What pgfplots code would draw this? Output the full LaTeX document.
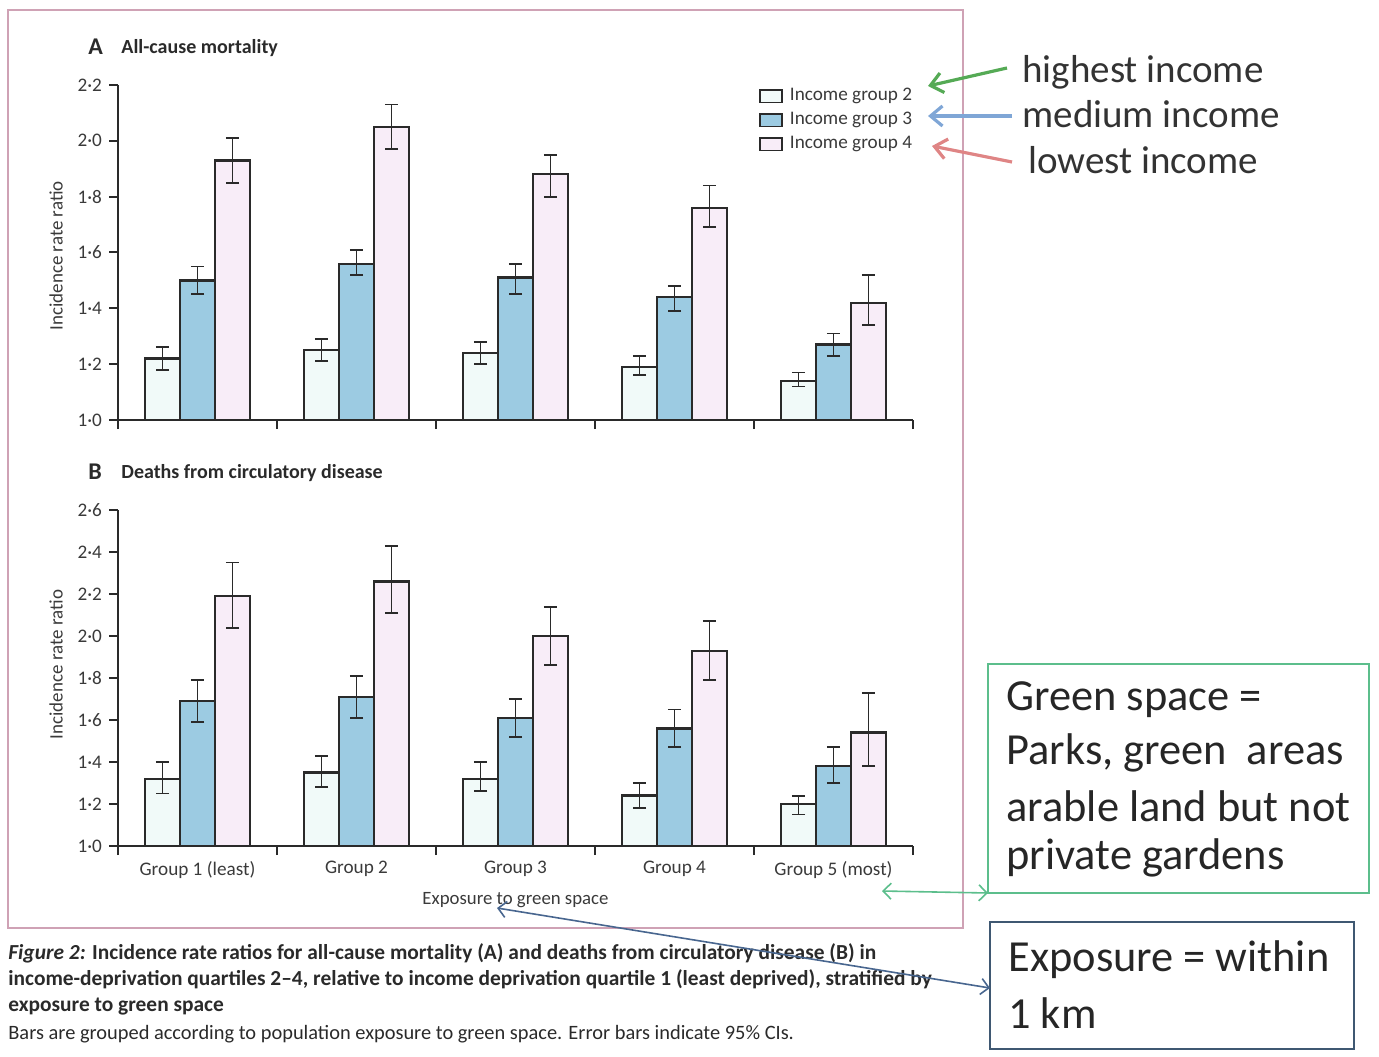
\documentclass[border=0pt]{standalone}
\usepackage{fontspec}
\setmainfont{Carlito}
\usepackage{pgfplots}
\pgfplotsset{compat=1.18}
\usepackage{pgfplotstable}
\usetikzlibrary{arrows.meta}

\definecolor{barwhite}{HTML}{F1FAF9}
\definecolor{barblue}{HTML}{9CCBE2}
\definecolor{barpink}{HTML}{F8EDF8}
\definecolor{edge}{HTML}{2A2A2A}
\definecolor{txt}{HTML}{3A3A3A}
\definecolor{framepink}{HTML}{CFA2B5}
\definecolor{arrgreen}{HTML}{55AA55}
\definecolor{arrblue}{HTML}{7FA6D6}
\definecolor{arrred}{HTML}{DF8585}
\definecolor{boxgreen}{HTML}{5CBE8C}
\definecolor{boxblue}{HTML}{3F5872}
\definecolor{linkblue}{HTML}{48668F}

% Incidence rate ratios with 95% CI (upper and lower distances)
% w = income group 2, b = income group 3, p = income group 4
\pgfplotstableread{
x w    wp   wm   b    bp   bm   p    pp   pm
1 1.22 0.04 0.04 1.50 0.05 0.05 1.93 0.08 0.08
2 1.25 0.04 0.04 1.56 0.05 0.04 2.05 0.08 0.08
3 1.24 0.04 0.04 1.51 0.05 0.06 1.88 0.07 0.08
4 1.19 0.04 0.03 1.44 0.04 0.05 1.76 0.08 0.07
5 1.14 0.03 0.02 1.27 0.04 0.04 1.42 0.10 0.08
}\allcause

\pgfplotstableread{
x w    wp   wm   b    bp   bm   p    pp   pm
1 1.32 0.08 0.07 1.69 0.10 0.10 2.19 0.16 0.15
2 1.35 0.08 0.07 1.71 0.10 0.10 2.26 0.17 0.15
3 1.32 0.08 0.06 1.61 0.09 0.09 2.00 0.14 0.14
4 1.24 0.06 0.06 1.56 0.09 0.09 1.93 0.14 0.14
5 1.20 0.04 0.05 1.38 0.09 0.08 1.54 0.19 0.16
}\circulatory

\pgfplotsset{
  panel/.style={
    scale only axis, width=397.5pt,
    xmin=0.5, xmax=5.5, ymin=1,
    axis x line*=bottom, axis y line*=left,
    axis line style={edge, line width=1pt},
    tick style={edge, line width=1pt},
    tick align=outside, major tick length=4.5pt,
    xtick={0.5,1.5,...,5.5}, xticklabels={},
    ybar, bar width=17.5pt,
    tick label style={font=\fontsize{9.6}{11}\selectfont, text=txt},
    every axis y label/.style={at={(axis description cs:-0.078,0.49)},
      rotate=90, anchor=center, font=\fontsize{9.5}{11}\selectfont, text=txt},
    clip=false,
  },
  gbar/.style={draw=edge, line width=1.15pt, fill=#1,
    /pgfplots/error bars/y dir=both,
    /pgfplots/error bars/y explicit,
    /pgfplots/error bars/error bar style={edge, line width=0.95pt},
    /pgfplots/error bars/error mark options={rotate=90, edge, line width=0.95pt, mark size=3.3pt}},
}

\begin{document}
\begin{tikzpicture}
\path[use as bounding box] (0,0) rectangle (689.5pt,528pt);

% Panel A: all-cause mortality
\begin{axis}[panel, at={(59pt,318pt)}, anchor=south west,
  height=167.5pt, ymax=2.2,
  ytick={1,1.2,1.4,1.6,1.8,2.0,2.2},
  yticklabels={1·0,1·2,1·4,1·6,1·8,2·0,2·2},
  ylabel={Incidence rate ratio},
  legend style={at={(axis description cs:0.806,1.003)}, anchor=north west,
    draw=none, fill=none, font=\fontsize{9.6}{11}\selectfont, text=txt,
    row sep=0.3pt, inner sep=0pt, cells={anchor=west},
    /tikz/every odd column/.append style={column sep=1.5pt}},
  legend image code/.code={\draw[#1,/tikz/line width=0.9pt] (0pt,-3.2pt) rectangle (11pt,3.2pt);},
]
\addplot[gbar=barwhite, bar shift=-17.5pt] table[x=x, y=w, y error plus=wp, y error minus=wm]{\allcause};
\addplot[gbar=barblue, bar shift=0pt] table[x=x, y=b, y error plus=bp, y error minus=bm]{\allcause};
\addplot[gbar=barpink, bar shift=17.5pt] table[x=x, y=p, y error plus=pp, y error minus=pm]{\allcause};
\legend{Income group 2, Income group 3, Income group 4}
\end{axis}

% Panel B: deaths from circulatory disease
\begin{axis}[panel, at={(59pt,105pt)}, anchor=south west,
  height=168pt, ymax=2.6,
  ytick={1,1.2,1.4,1.6,1.8,2.0,2.2,2.4,2.6},
  yticklabels={1·0,1·2,1·4,1·6,1·8,2·0,2·2,2·4,2·6},
  ylabel={Incidence rate ratio},
  every axis y label/.append style={at={(axis description cs:-0.078,0.54)}},
  extra x ticks={1,2,3,4,5},
  extra x tick labels={Group 1 (least), Group 2, Group 3, Group 4, Group 5 (most)},
  extra x tick style={major tick length=0pt, tick label style={yshift=-4pt}},
  xlabel={Exposure to green space},
  every axis x label/.style={at={(axis description cs:0.5,0)}, anchor=center,
    yshift=-27pt, font=\fontsize{9.4}{11}\selectfont, text=txt},
]
\addplot[gbar=barwhite, bar shift=-17.5pt] table[x=x, y=w, y error plus=wp, y error minus=wm]{\circulatory};
\addplot[gbar=barblue, bar shift=0pt] table[x=x, y=b, y error plus=bp, y error minus=bm]{\circulatory};
\addplot[gbar=barpink, bar shift=17.5pt] table[x=x, y=p, y error plus=pp, y error minus=pm]{\circulatory};
\end{axis}

\begin{scope}[x=0.5pt, y=-0.5pt, shift={(0pt,528pt)}]
  % figure frame
  \draw[framepink, line width=1pt] (8,10) rectangle (963,928);

  % panel titles
  \node[anchor=base west, inner sep=0, text=edge, font=\bfseries\fontsize{12}{14}\selectfont] at (88,55) {A};
  \node[anchor=base west, inner sep=0, text=edge, font=\bfseries\fontsize{10}{12}\selectfont] at (121,54) {All-cause mortality};
  \node[anchor=base west, inner sep=0, text=edge, font=\bfseries\fontsize{12}{14}\selectfont] at (88,479) {B};
  \node[anchor=base west, inner sep=0, text=edge, font=\bfseries\fontsize{10}{12}\selectfont] at (121,478) {Deaths from circulatory disease};

  % caption
  \begin{scope}[every node/.style={anchor=base west, inner sep=0, text=edge}]
    \node[font=\bfseries\fontsize{10.7}{12}\selectfont] at (8,959) {\textit{Figure 2:} Incidence rate ratios for all-cause mortality (A) and deaths from circulatory disease (B) in};
    \node[font=\bfseries\fontsize{10.7}{12}\selectfont] at (8,985) {income-deprivation quartiles 2–4, relative to income deprivation quartile 1 (least deprived), stratified by};
    \node[font=\bfseries\fontsize{10.7}{12}\selectfont] at (8,1011) {exposure to green space};
    \node[font=\fontsize{10.2}{12}\selectfont] at (8,1039) {Bars are grouped according to population exposure to green space. Error bars indicate 95\% CIs.};
  \end{scope}

  % income annotations
  \begin{scope}[every node/.style={anchor=west, inner sep=0, text=black!80, font=\fontsize{19.5}{22}\selectfont}]
    \node at (1022,72) {highest income};
    \node at (1022,114) {medium income};
    \node at (1028,160) {lowest income};
  \end{scope}
  \draw[arrgreen, line width=1.6pt, -{Straight Barb[length=6pt,width=10pt]}] (1007,68) -- (928,86);
  \draw[arrblue, line width=1.6pt, -{Straight Barb[length=6pt,width=10pt]}] (1012,116) -- (928,116);
  \draw[arrred, line width=1.6pt, -{Straight Barb[length=6pt,width=10pt]}] (1012,162) -- (932,146);

  % definition boxes
  \draw[boxgreen, line width=0.8pt] (988,664) rectangle (1369,893);
  \begin{scope}[every node/.style={anchor=west, inner sep=0, text=black!85, font=\fontsize{22.2}{25}\selectfont}]
    \node at (1006,700) {Green space =};
    \node at (1006,753) {Parks, green\ \ areas};
    \node at (1006,806) {arable land but not};
    \node at (1006,858) {private gardens};
    \node at (1008,960) {Exposure = within};
    \node at (1008,1013) {1 km};
  \end{scope}
  \draw[boxblue, line width=0.8pt] (990,922) rectangle (1354,1049);
  \draw[boxgreen, line width=0.8pt, {Straight Barb[length=4pt,width=8pt]}-{Straight Barb[length=4pt,width=8pt]}] (882,891) -- (988,893);
  \draw[linkblue, line width=0.8pt, {Straight Barb[length=4pt,width=8pt]}-{Straight Barb[length=4pt,width=8pt]}] (497,908) -- (990,988);
\end{scope}
\end{tikzpicture}
\end{document}
